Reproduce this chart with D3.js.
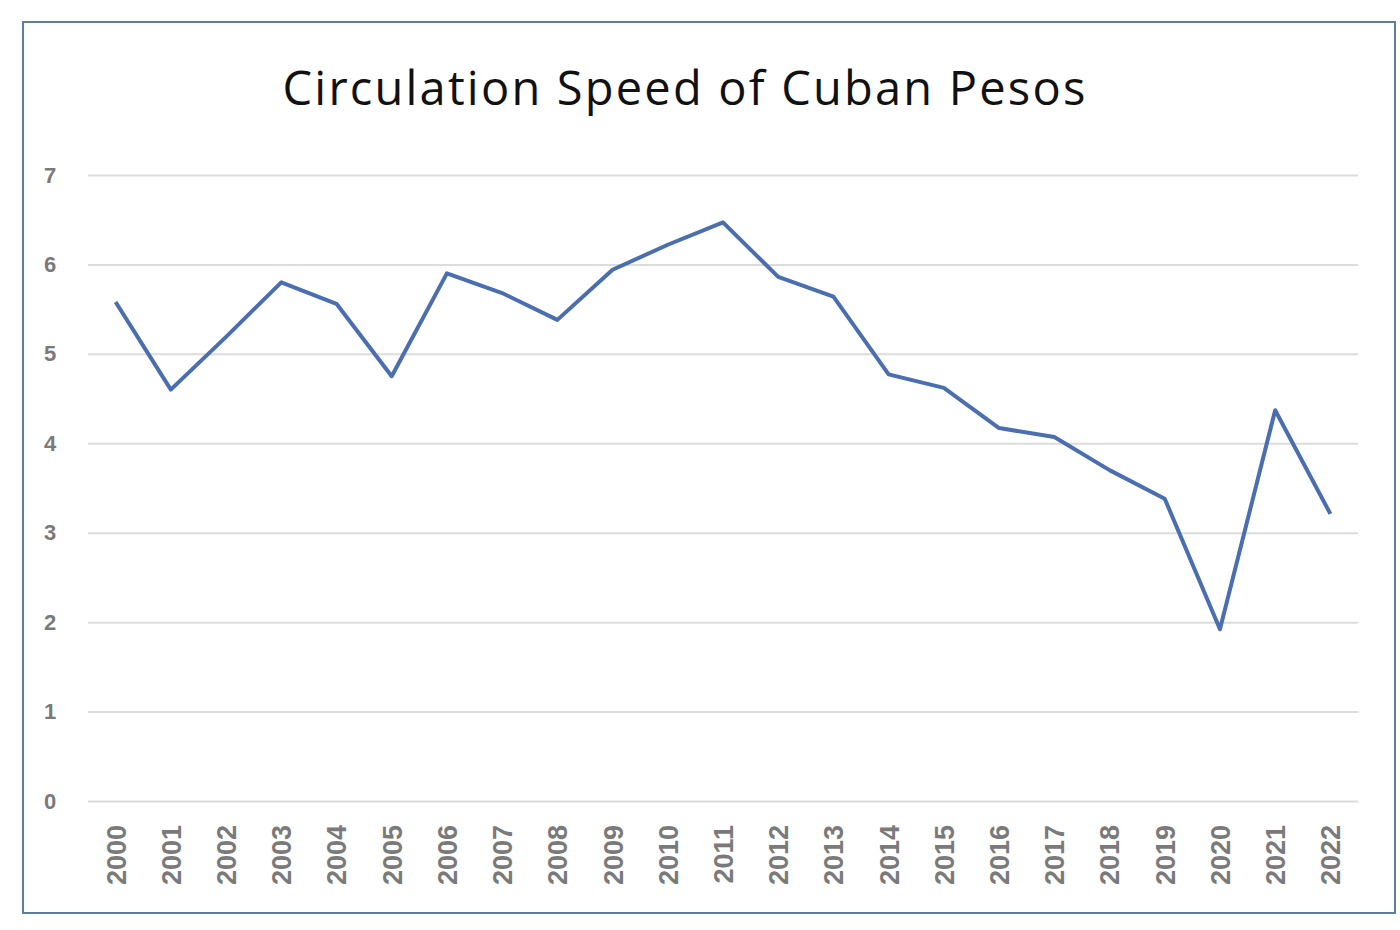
<!DOCTYPE html>
<html><head><meta charset="utf-8">
<script src="https://cdn.jsdelivr.net/npm/d3@7"></script>
<style>body{margin:0;background:#fff}svg{display:block}</style>
</head><body>
<svg id="c" width="1400" height="930"></svg>
<script>
const years = ["2000","2001","2002","2003","2004","2005","2006","2007","2008","2009","2010","2011","2012","2013","2014","2015","2016","2017","2018","2019","2020","2021","2022"];
const speed = [5.58,4.60,5.19,5.80,5.56,4.75,5.90,5.68,5.38,5.94,6.22,6.47,5.86,5.64,4.77,4.62,4.17,4.07,3.70,3.38,1.92,4.37,3.21];
const yTicks = [0,1,2,3,4,5,6,7];
const title = "Circulation Speed of Cuban Pesos";

const svg = d3.select("#c");
const L = 88, R = 1358, T = 175, B = 801;
const x = d3.scalePoint().domain(years).range([L, R]).padding(0.5);
const y = d3.scaleLinear().domain([0, 7]).range([B, T]);

svg.append("rect").attr("x",23).attr("y",22).attr("width",1372).attr("height",891)
  .attr("fill","#fff").attr("stroke","#5b7f9f").attr("stroke-width",2);

svg.append("text").attr("x",685).attr("y",105).attr("text-anchor","middle")
  .attr("font-family","Open Sans, Noto Sans, sans-serif").attr("font-size",47)
  .attr("letter-spacing",2.2).attr("fill","#111").text(title);

const yAxis = svg.append("g").attr("transform",`translate(${L},0)`)
  .call(d3.axisLeft(y).tickValues(yTicks).tickSize(-(R-L)).tickFormat(d3.format("d")));
yAxis.select(".domain").remove();
yAxis.selectAll(".tick line").attr("stroke","#dcdcdc").attr("stroke-width",2);
yAxis.selectAll(".tick text").attr("x",-38).attr("text-anchor","middle")
  .attr("font-family","Liberation Sans, Arial, sans-serif").attr("font-size",22).attr("font-weight","bold").attr("fill","#7a7a7a");

const xAxis = svg.append("g").attr("transform",`translate(0,${B})`)
  .call(d3.axisBottom(x).tickSize(0));
xAxis.select(".domain").remove();
xAxis.selectAll(".tick text")
  .attr("transform","rotate(-90)").attr("text-anchor","end").attr("dy","0.35em")
  .attr("x",-24).attr("y",0)
  .attr("font-family","Liberation Sans, Arial, sans-serif").attr("font-size",27).attr("font-weight","bold").attr("fill","#7a7a7a");

const line = d3.line().x((d,i)=>x(years[i])).y(d=>y(d));
svg.append("path").datum(speed).attr("d",line).attr("fill","none")
  .attr("stroke","#4a6eaf").attr("stroke-width",4).attr("stroke-linejoin","round");
</script>
</body></html>
